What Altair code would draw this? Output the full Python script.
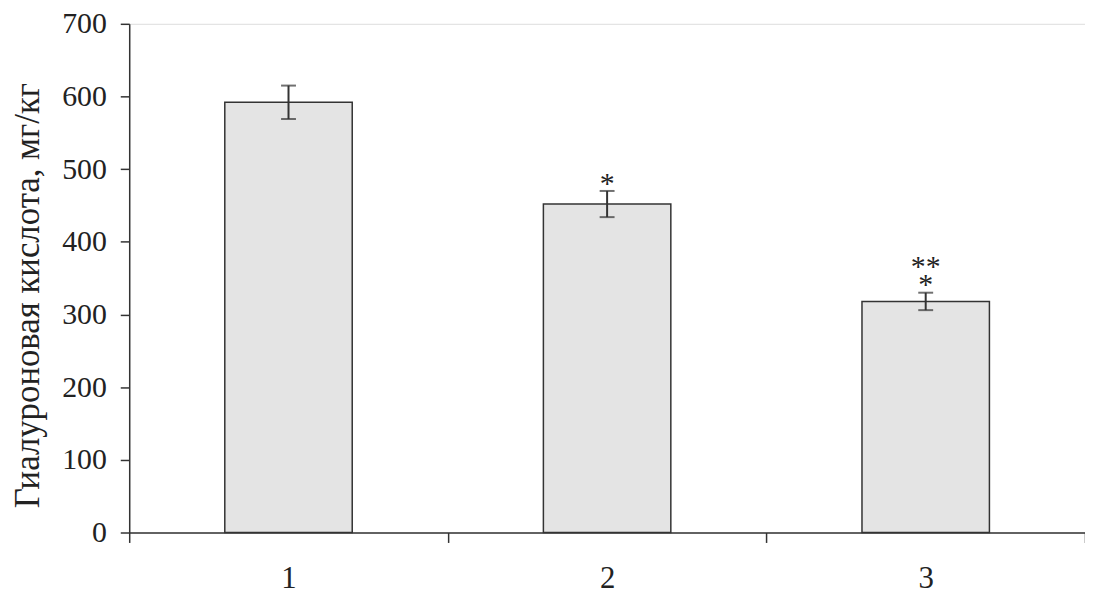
import altair as alt
import pandas as pd

groups = ["1", "2", "3"]
means = [592, 452, 318]
errors = [23, 18, 12]

star_groups = ["2", "3"]
star_text = ["*", "**\n*"]
star_lines = [1, 2]

y_ticks = [0, 100, 200, 300, 400, 500, 600, 700]
y_title = "Гиалуроновая кислота, мг/кг"

FONT = "Liberation Serif"
INK = "#222222"
LINE = "#333333"

df = pd.DataFrame({
    "group": groups,
    "mean": means,
    "lo": [m - e for m, e in zip(means, errors)],
    "hi": [m + e for m, e in zip(means, errors)],
})
hi_map = dict(zip(df["group"], df["hi"]))
stars = pd.DataFrame({"group": star_groups, "txt": star_text,
                      "lines": star_lines,
                      "hi": [hi_map[g] for g in star_groups]})

x_scale = alt.Scale(paddingInner=0, paddingOuter=0)
x_enc = alt.X(
    "group:N",
    sort=groups,
    scale=x_scale,
    axis=alt.Axis(
        title=None, labelAngle=0, tickBand="extent", tickSize=10,
        labelPadding=21, labelFont=FONT, labelFontSize=31, labelColor=INK,
        domainColor=LINE, domainWidth=1.5, tickColor=LINE, tickWidth=1.5,
        grid=False,
    ),
)
x_plain = alt.X("group:N", sort=groups, scale=x_scale)
y_scale = alt.Scale(domain=[0, 700], nice=False)

bars = alt.Chart(df).mark_bar(
    fill="#e4e4e4", stroke=LINE, strokeWidth=1.5, width={"band": 0.4}
).encode(
    x=x_enc,
    y=alt.Y(
        "mean:Q",
        scale=y_scale,
        axis=alt.Axis(
            values=y_ticks, title=y_title, grid=False,
            tickSize=9, labelPadding=14, labelFont=FONT, labelFontSize=30,
            labelColor=INK, domainColor=LINE, domainWidth=1.5,
            tickColor=LINE, tickWidth=1.5,
            titleFont=FONT, titleFontSize=35, titleFontWeight="normal",
            titleColor=INK, titleAngle=270, titleX=-102, titleY=273,
            titleAlign="center", titleBaseline="middle",
        ),
    ),
)

rules = alt.Chart(df).mark_rule(color=LINE, strokeWidth=2).encode(
    x=x_plain,
    y=alt.Y("lo:Q", scale=y_scale),
    y2="hi:Q",
)
caps_top = alt.Chart(df).mark_tick(color=LINE, thickness=2, size=15).encode(
    x=x_plain,
    y=alt.Y("hi:Q", scale=y_scale),
)
caps_bot = alt.Chart(df).mark_tick(color=LINE, thickness=2, size=15).encode(
    x=x_plain,
    y=alt.Y("lo:Q", scale=y_scale),
)
star_single = alt.Chart(stars).transform_filter("datum.lines == 1").mark_text(
    font=FONT, fontSize=30, color=INK, baseline="bottom", dy=8,
).encode(
    x=x_plain,
    y=alt.Y("hi:Q", scale=y_scale),
    text="txt:N",
)
star_double = alt.Chart(stars).transform_filter("datum.lines == 2").mark_text(
    font=FONT, fontSize=30, color=INK, baseline="bottom", dy=-11,
    lineBreak="\n", lineHeight=18,
).encode(
    x=x_plain,
    y=alt.Y("hi:Q", scale=y_scale),
    text="txt:N",
)

chart = alt.layer(bars, rules, caps_top, caps_bot, star_single, star_double).properties(
    width=962,
    height=512,
    autosize=alt.AutoSizeParams(type="none"),
    padding={"left": 122, "top": 14, "right": 0, "bottom": 64},
).configure_view(stroke=None).configure(background="white")

chart.save("out.html", embed_options={"renderer": "svg", "actions": False})
